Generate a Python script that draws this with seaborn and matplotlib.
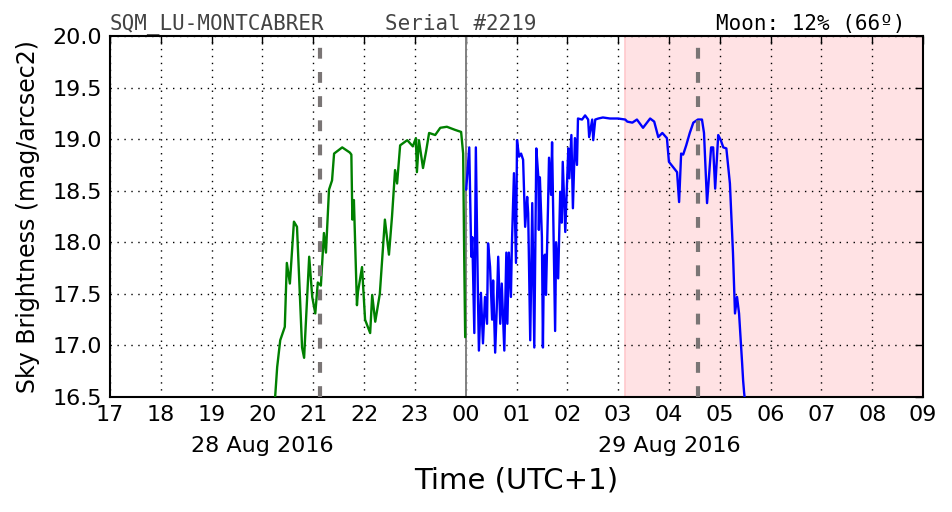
import numpy as np
import pandas as pd
import matplotlib
matplotlib.use("Agg")
import matplotlib.pyplot as plt
import matplotlib.transforms as mtransforms
import seaborn as sns

# ---- data (hours since 00:00 of 28 Aug 2016, UTC+1) ----
green_hours = [20.25, 20.29, 20.35, 20.44, 20.48, 20.54, 20.62, 20.68, 20.78, 20.82,
               20.92, 20.98, 21.04, 21.09, 21.15, 21.21, 21.25, 21.31, 21.37, 21.41,
               21.57, 21.72, 21.75, 21.77, 21.80, 21.86, 21.88, 21.96, 22.02, 22.12,
               22.16, 22.22, 22.31, 22.41, 22.49, 22.55, 22.61, 22.65, 22.71, 22.85,
               22.96, 23.02, 23.04, 23.08, 23.16, 23.22, 23.28, 23.40, 23.50, 23.63,
               23.79, 23.91, 23.95, 23.97, 23.99]
green_mag = [16.50, 16.79, 17.05, 17.18, 17.80, 17.60, 18.20, 18.15, 16.98, 16.88,
             17.86, 17.47, 17.31, 17.61, 17.58, 18.09, 17.90, 18.51, 18.60, 18.86,
             18.92, 18.87, 18.85, 18.22, 18.41, 17.39, 17.52, 17.76, 17.25, 17.12,
             17.49, 17.23, 17.50, 18.22, 17.88, 18.25, 18.70, 18.57, 18.94, 18.99,
             18.93, 19.01, 18.68, 18.99, 18.72, 18.88, 19.06, 19.04, 19.11, 19.12,
             19.09, 19.07, 18.86, 17.90, 17.08]

blue_hours = [24.01, 24.07, 24.11, 24.13, 24.17, 24.20, 24.24, 24.26, 24.30, 24.34,
              24.38, 24.42, 24.44, 24.48, 24.52, 24.54, 24.58, 24.61, 24.64, 24.68,
              24.71, 24.76, 24.80, 24.82, 24.85, 24.89, 24.91, 24.95, 24.99, 25.01,
              25.05, 25.09, 25.13, 25.17, 25.21, 25.23, 25.27, 25.31, 25.35, 25.39,
              25.43, 25.44, 25.46, 25.50, 25.52, 25.54, 25.56, 25.58, 25.62, 25.64,
              25.68, 25.70, 25.76, 25.78, 25.82, 25.86, 25.89, 25.91, 25.96, 25.99,
              26.02, 26.04, 26.08, 26.11, 26.15, 26.19, 26.21, 26.29, 26.35, 26.41,
              26.43, 26.49, 26.51, 26.55, 26.61, 26.70, 26.84, 27.00, 27.14, 27.18,
              27.28, 27.37, 27.49, 27.63, 27.71, 27.79, 27.87, 27.96, 28.00, 28.08,
              28.16, 28.20, 28.24, 28.28, 28.34, 28.41, 28.48, 28.57, 28.65, 28.69,
              28.75, 28.83, 28.87, 28.91, 28.97, 29.02, 29.07, 29.13, 29.20, 29.26,
              29.30, 29.34, 29.38, 29.44, 29.46, 29.48, 29.50]
blue_mag = [18.51, 18.92, 17.86, 18.05, 17.12, 18.92, 17.51, 16.95, 17.51, 17.02,
            17.47, 17.21, 17.99, 17.76, 17.25, 17.63, 16.93, 17.34, 17.86, 17.21,
            17.60, 16.95, 17.90, 17.21, 17.90, 17.47, 17.99, 18.67, 17.80, 18.99,
            18.83, 18.86, 18.80, 18.15, 18.44, 18.28, 17.05, 18.38, 16.98, 18.91,
            18.63, 18.12, 18.63, 18.05, 16.98, 17.86, 17.88, 17.49, 18.34, 18.82,
            18.46, 18.97, 17.14, 18.00, 17.65, 18.49, 18.19, 18.78, 18.10, 18.52,
            18.91, 18.62, 19.04, 18.33, 19.01, 18.75, 19.20, 19.19, 19.23, 19.19,
            19.02, 19.19, 18.99, 19.19, 19.20, 19.21, 19.20, 19.20, 19.19, 19.17,
            19.16, 19.19, 19.11, 19.20, 19.17, 19.02, 19.06, 19.01, 18.78, 18.73,
            18.68, 18.39, 18.86, 18.85, 18.94, 19.06, 19.16, 19.19, 19.19, 19.06,
            18.38, 18.92, 18.92, 18.52, 19.04, 18.99, 18.92, 18.91, 18.57, 17.90,
            17.31, 17.47, 17.31, 16.83, 16.66, 16.54, 16.45]

x_ticks = list(range(17, 34))
x_tick_labels = ["%02d" % (h % 24) for h in x_ticks]
y_ticks = [16.5, 17.0, 17.5, 18.0, 18.5, 19.0, 19.5, 20.0]
date_labels = ["28 Aug 2016", "29 Aug 2016"]
date_label_hours = [20, 28]
twilight_start = 27.14
moon_markers = [21.13, 28.57]
midnight = 24.0
title_left = "SQM_LU-MONTCABRER"
title_mid = "Serial #2219"
title_right = "Moon: 12% (66º)"

# ---- style ----
sns.set_style("white")
plt.rcParams['font.family'] = ['DejaVu Sans']
plt.rcParams['text.color'] = 'black'
plt.rcParams['axes.labelcolor'] = 'black'
plt.rcParams['xtick.color'] = 'black'
plt.rcParams['ytick.color'] = 'black'
plt.rcParams['xtick.direction'] = 'in'
plt.rcParams['ytick.direction'] = 'in'

fig = plt.figure(figsize=(9.52, 5.12), dpi=100)
ax = fig.add_axes([110/952, 1-397/512, (923-110)/952, (397-36)/512])

df_g = pd.DataFrame({"hour": green_hours, "mag": green_mag})
df_b = pd.DataFrame({"hour": blue_hours, "mag": blue_mag})

ax.axvspan(twilight_start, 33, color="#ffe2e4", zorder=0, lw=1.2, ec="#ffc8cc")
sns.lineplot(data=df_g, x="hour", y="mag", ax=ax, color="#008000", lw=1.7,
             sort=False, estimator=None, zorder=3)
sns.lineplot(data=df_b, x="hour", y="mag", ax=ax, color="#0000ff", lw=1.7,
             sort=False, estimator=None, zorder=3)
ax.axvline(midnight, color="#808080", lw=1.4, zorder=2)
for m in moon_markers:
    ax.axvline(m, color="#7a7575", lw=3, dashes=(2.6, 3.2), zorder=4)

ax.set_xlim(17, 33)
ax.set_ylim(16.5, 20.0)
ax.set_xticks(x_ticks)
ax.set_xticklabels(x_tick_labels)
ax.set_yticks(y_ticks)
ax.set_yticklabels(["%.1f" % v for v in y_ticks])
ax.grid(True, color="black", linestyle=(0, (1, 4)), lw=1.0)
ax.tick_params(axis="both", which="both", direction="in", length=6, width=1,
               top=True, right=True, labelsize=16, pad=6, color="black",
               labelcolor="black")
for s in ax.spines.values():
    s.set_color("black")
    s.set_linewidth(1.5)
    s.set_visible(True)

ax.set_xlabel("Time (UTC+1)", fontsize=21, labelpad=30, color="black")
ax.set_ylabel("Sky Brightness (mag/arcsec2)", fontsize=17, labelpad=9, color="black")

trans = mtransforms.blended_transform_factory(ax.transData, ax.transAxes)
for h, lab in zip(date_label_hours, date_labels):
    ax.text(h, -0.135, lab, transform=trans, ha="center", va="center", fontsize=16,
            color="black")

ax.text(0.0, 1.005, title_left, transform=ax.transAxes, ha="left", va="bottom",
        fontsize=15, family="DejaVu Sans Mono", color="#444444")
ax.text(0.338, 1.005, title_mid, transform=ax.transAxes, ha="left", va="bottom",
        fontsize=15, family="DejaVu Sans Mono", color="#444444")
ax.text(0.978, 1.005, title_right, transform=ax.transAxes, ha="right", va="bottom",
        fontsize=15, family="DejaVu Sans Mono", color="black")

fig.savefig("out.png", dpi=100)
